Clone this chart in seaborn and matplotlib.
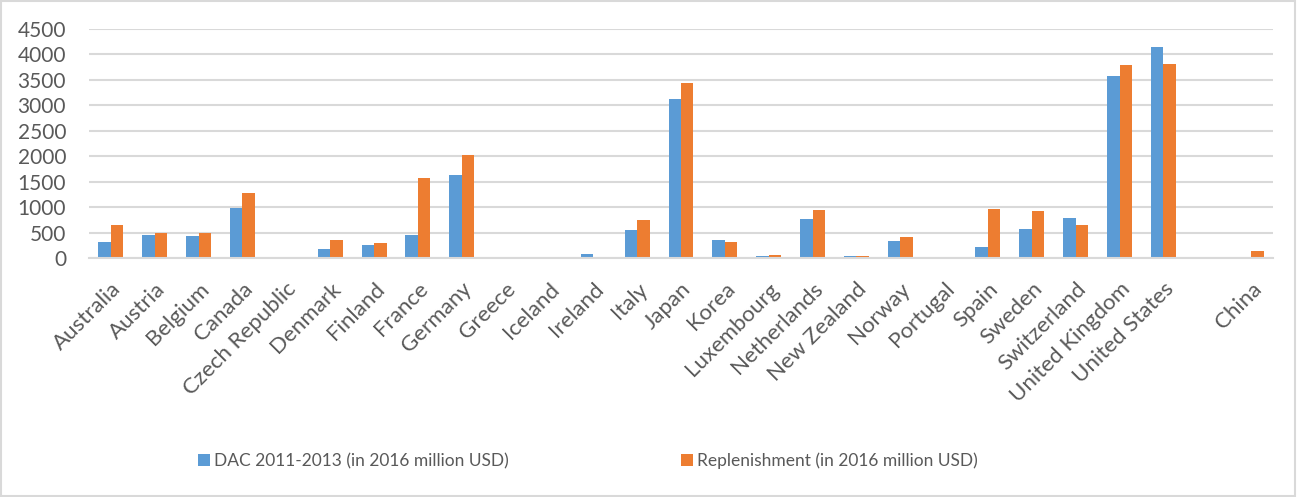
import matplotlib
matplotlib.use("Agg")
import matplotlib.pyplot as plt
import seaborn as sns
import pandas as pd
from matplotlib.patches import Rectangle

# Donor countries (a blank slot separates the DAC members from China)
countries = ["Australia", "Austria", "Belgium", "Canada", "Czech Republic",
             "Denmark", "Finland", "France", "Germany", "Greece", "Iceland",
             "Ireland", "Italy", "Japan", "Korea", "Luxembourg", "Netherlands",
             "New Zealand", "Norway", "Portugal", "Spain", "Sweden",
             "Switzerland", "United Kingdom", "United States", " ", "China"]

dac_2011_2013 = [310, 449, 442, 982, 5, 186, 257, 449, 1634, 0, 2, 73, 547,
                 3116, 356, 47, 771, 33, 330, 0, 211, 561, 778, 3577, 4150,
                 0, 0]
replenishment = [640, 482, 482, 1273, 8, 344, 296, 1575, 2030, 0, 0, 0, 739,
                 3432, 310, 53, 936, 33, 415, 20, 962, 923, 652, 3783, 3808,
                 0, 146]

series_names = ["DAC 2011-2013 (in 2016 million USD)",
                "Replenishment (in 2016 million USD)"]
y_ticks = [0, 500, 1000, 1500, 2000, 2500, 3000, 3500, 4000, 4500]

df = pd.DataFrame({
    "country": countries * 2,
    "value": dac_2011_2013 + replenishment,
    "series": [series_names[0]] * len(countries) + [series_names[1]] * len(countries),
})

sns.set_style("white")
plt.rcParams["font.family"] = ["Lato", "DejaVu Sans"]
text_color = "#595959"
grid_color = "#D9D9D9"

fig = plt.figure(figsize=(12.98, 4.97), dpi=100)
ax = fig.add_axes([89 / 1298, 1 - 258 / 497, (1273 - 89) / 1298, (258 - 29) / 497])

sns.barplot(data=df, x="country", y="value", hue="series", order=countries,
            hue_order=series_names, palette=["#5B9BD5", "#ED7D31"],
            saturation=1, width=0.57, errorbar=None, linewidth=0, ax=ax)

ax.set_ylim(0, 4500)
ax.set_xlim(-0.5, len(countries) - 0.5)
ax.set_yticks(y_ticks)
ax.set_yticklabels([str(t) for t in y_ticks], fontsize=15, color=text_color)
ax.yaxis.grid(True, color=grid_color, linewidth=1.5)
ax.set_axisbelow(True)
for side in ["top", "right", "left"]:
    ax.spines[side].set_visible(False)
ax.spines["bottom"].set_color(grid_color)
ax.spines["bottom"].set_linewidth(1.5)
ax.tick_params(axis="both", length=0)
ax.tick_params(axis="y", pad=16.5)
ax.set_xlabel("")
ax.set_ylabel("")

for lbl in ax.get_xticklabels():
    lbl.set_rotation(45)
    lbl.set_ha("right")
    lbl.set_va("top")
    lbl.set_rotation_mode("anchor")
    lbl.set_fontsize(16)
    lbl.set_color(text_color)
ax.tick_params(axis="x", pad=15)

handles, labels = ax.get_legend_handles_labels()
ax.get_legend().remove()
fig.legend(handles, labels, loc="center", bbox_to_anchor=(588 / 1298, 1 - 461 / 497),
           ncol=2, frameon=False, fontsize=12.5, labelcolor=text_color,
           handlelength=0.69, handleheight=0.69, handletextpad=0.23,
           columnspacing=9.9)

# light frame around the chart area
fig.patches.append(Rectangle((0.001, 0.002), 0.997, 0.996, transform=fig.transFigure,
                             fill=False, edgecolor=grid_color, linewidth=1.5))

fig.savefig("out.png", dpi=100, facecolor="white")
